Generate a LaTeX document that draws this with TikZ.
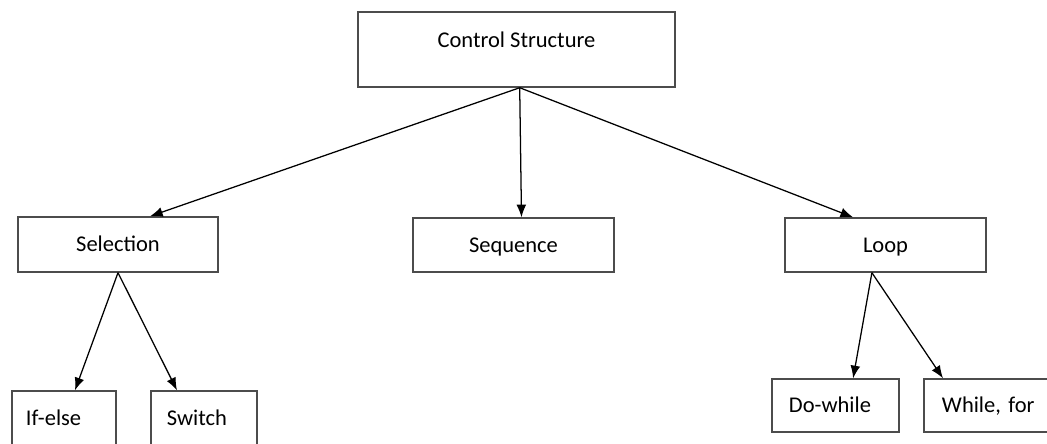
\documentclass[tikz,border=0pt]{standalone}
\usepackage{fontspec}
\setmainfont{Carlito}
\usetikzlibrary{arrows.meta}

\begin{document}
\begin{tikzpicture}[x=0.025cm, y=-0.025cm,
  blk/.style={draw=black!70, line width=1pt, font=\fontsize{16}{19}\selectfont, inner sep=0pt, text height=10.5pt, text depth=0.2pt},
  lblk/.style={blk, align=left, minimum height=1.35cm},
  arr/.style={-{Latex[length=9pt,width=7pt]}, line width=0.9pt, black}]
\clip (0,0) rectangle (1047,443);

\node (CS) at (516.5, 49.5) [blk, minimum width=7.925cm, minimum height=1.875cm, text height=5pt, text depth=8.2pt] {Control Structure};
\node (Sel) at (118, 244.5) [blk, minimum width=5cm, minimum height=1.375cm] {Selection};
\node (Seq) at (513.5, 245) [blk, minimum width=5.025cm, minimum height=1.35cm] {Sequence};
\node (Loop) at (885.5, 245) [blk, minimum width=5.025cm, minimum height=1.35cm] {Loop};
\node (If) at (64, 418) [lblk, inner xsep=0.35cm, text width=1.9cm] {If-else};
\node (Sw) at (204, 418) [lblk, inner xsep=0.4cm, text width=1.85cm] {Switch};
\node (Do) at (835.5, 405.5) [lblk, inner xsep=0.425cm, text width=2.325cm, minimum height=1.325cm] {Do-while};
\node (Wf) at (998, 405.5) [lblk, inner xsep=0.45cm, text width=2.8cm, minimum height=1.325cm] {While, for};

\coordinate (F) at ([xshift=0.08cm]CS.south);

\draw (F) edge [arr] ([xshift=0.8cm]Sel.north);
\draw (F) edge [arr] ([xshift=0.2cm]Seq.north);
\draw (F) edge [arr] ([xshift=-0.81cm]Loop.north);

\draw (Sel.south) edge [arr] ([xshift=0.275cm]If.north);
\draw (Sel.south) edge [arr] ([xshift=-0.675cm]Sw.north);

\draw ([xshift=-0.34cm]Loop.south) edge [arr] ([xshift=0.44cm]Do.north);
\draw ([xshift=-0.34cm]Loop.south) edge [arr] ([xshift=-1.375cm]Wf.north);
\end{tikzpicture}
\end{document}
